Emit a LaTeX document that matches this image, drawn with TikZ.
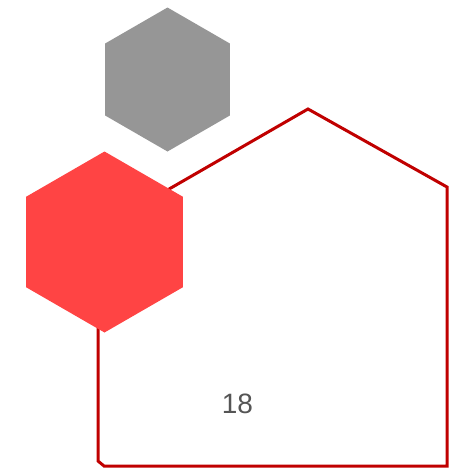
\documentclass[tikz,border=0pt]{standalone}
\usepackage{fontspec}
\setmainfont{Liberation Sans}
\definecolor{outred}{RGB}{192,0,0}
\definecolor{hexred}{RGB}{255,68,68}
\definecolor{hexgray}{RGB}{150,150,150}
\definecolor{txtgray}{RGB}{85,85,85}
\begin{document}
\begin{tikzpicture}[x=1pt,y=-1pt,
  outline/.style={draw=outred,line width=3pt,line join=miter},
  label/.style={text=txtgray,font=\fontsize{28}{30}\selectfont,inner sep=0pt}]
\useasboundingbox (0,0) rectangle (449,469);
% outline shape
\coordinate (top) at (308,109);
\coordinate (rt) at (447,187);
\coordinate (rb) at (447,466);
\coordinate (lb2) at (104,466);
\coordinate (lb1) at (98,461);
\coordinate (lt) at (98,230);
\draw[outline] (top) -- (rt) -- (rb) -- (lb2) -- (lb1) -- (lt) -- cycle;
% red hexagon
\coordinate (rc) at (104.5,242);
\fill[hexred] ([shift={(90:-90.5)}]rc)
  \foreach \a in {150,210,270,330,30} { -- ([shift={(\a:-90.5)}]rc) } -- cycle;
% gray hexagon
\coordinate (gc) at (167.5,79.5);
\fill[hexgray] ([shift={(90:-72)}]gc)
  \foreach \a in {150,210,270,330,30} { -- ([shift={(\a:-72)}]gc) } -- cycle;
\node[label] (n18) at (237.5,403.5) {18};
\end{tikzpicture}
\end{document}
